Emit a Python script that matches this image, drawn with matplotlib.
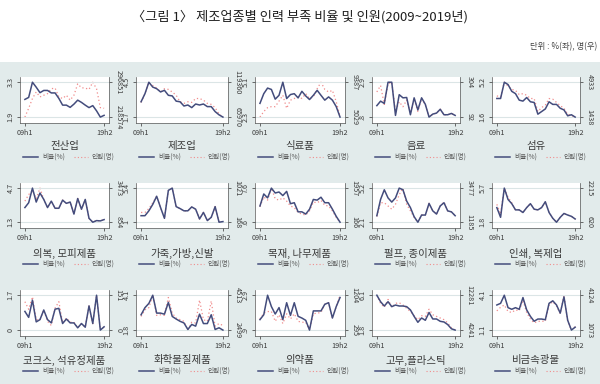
import matplotlib
matplotlib.use("Agg")
import matplotlib.pyplot as plt
from matplotlib.lines import Line2D

plt.rcParams['font.family'] = ['Noto Sans CJK KR', 'DejaVu Sans']

title = "〈그림 1〉 제조업종별 인력 부족 비율 및 인원(2009~2019년)"
unit_note = "단위 : %(좌), 명(우)"
periods = [f"{y:02d}h{h}" for y in range(9, 20) for h in (1, 2)]
legend_labels = ["비율(%)", "인원(명)"]

names = ["전산업", "제조업", "식료품", "음료", "섬유",
         "의복, 모피제품", "가죽,가방,신발", "목재, 나무제품", "펄프, 종이제품", "인쇄, 복제업",
         "코크스, 석유정제품", "화학물질제품", "의약품", "고무,플라스틱", "비금속광물"]

rate_total = [2.61, 2.69, 3.3, 3.10, 2.88, 2.97, 2.97, 2.87, 2.87, 2.65, 2.38, 2.38, 2.29, 2.42, 2.58, 2.49, 2.38, 2.28, 2.36, 2.15, 1.9, 1.97]
staff_total = [218574, 238323, 260271, 274903, 263929, 267587, 271245, 282219, 283682, 263929, 260271, 267587, 256613, 267587, 293193, 284414, 283682, 280755, 296851, 282219, 239785, 238323]
rate_mfg = [2.93, 3.58, 4.5, 4.11, 3.98, 3.72, 3.85, 3.45, 3.40, 2.98, 2.93, 2.59, 2.67, 2.46, 2.75, 2.67, 2.75, 2.54, 2.54, 2.14, 1.88, 1.7]
staff_mfg = [88422, 101895, 119360, 114370, 110378, 104390, 109380, 108382, 104390, 99400, 89420, 86925, 89420, 88422, 94410, 94410, 91915, 86925, 85428, 80438, 70458, 65970]
rate_food = [3.40, 4.18, 4.63, 4.52, 3.74, 4.05, 5.1, 3.79, 4.11, 4.18, 3.84, 4.37, 4.00, 3.71, 4.05, 4.45, 4.05, 3.66, 3.92, 3.66, 3.14, 2.3]
staff_food = [5029, 5721, 6210, 6332, 6332, 7025, 7758, 6129, 7147, 7351, 7554, 7351, 7961, 7351, 7554, 8572, 9387, 8491, 8165, 8369, 6943, 5110]
rate_bev = [1.49, 1.76, 1.62, 2.9, 2.9, 0.90, 2.15, 1.96, 1.98, 0.94, 1.96, 1.23, 1.96, 1.57, 0.8, 0.98, 1.04, 1.27, 0.94, 0.94, 1.02, 0.90]
staff_bev = [245, 284, 169, 294, 304, 126, 185, 155, 195, 116, 205, 126, 205, 165, 92, 110, 116, 140, 106, 106, 114, 102]
rate_tex = [3.52, 3.52, 5.2, 4.96, 4.26, 4.02, 3.35, 3.25, 3.62, 3.18, 3.11, 1.90, 2.17, 2.44, 3.18, 2.91, 2.91, 2.51, 2.34, 1.73, 1.84, 1.6]
staff_tex = [3561, 3463, 4933, 4541, 4214, 4116, 3692, 3790, 3627, 3300, 3300, 1994, 2385, 2647, 3300, 3234, 2908, 2581, 2320, 1732, 1601, 1438]
rate_cloth = [2.76, 3.24, 4.7, 3.31, 4.21, 3.57, 2.76, 3.40, 2.69, 2.69, 3.50, 3.18, 3.31, 2.11, 3.66, 2.60, 3.57, 1.69, 1.3, 1.46, 1.43, 1.56]
staff_cloth = [2475, 2974, 3298, 2650, 3473, 2600, 1977, 2475, 1927, 1927, 2550, 2301, 2401, 1478, 2675, 1852, 2600, 1154, 854, 979, 954, 1054]
rate_leather = [1.84, 1.84, 2.47, 3.30, 4.35, 2.89, 1.50, 5.11, 5.4, 3.01, 2.76, 2.47, 2.47, 2.97, 2.68, 1.42, 2.26, 1.21, 1.63, 3.01, 1.0, 1.08]
staff_leather = [412, 412, 509, 655, 818, 534, 265, 964, 1021, 558, 509, 452, 452, 550, 493, 249, 412, 209, 290, 558, 168, 184]
rate_wood = [3.93, 6.40, 5.60, 7.6, 6.60, 6.80, 6.07, 6.93, 4.40, 4.60, 2.73, 2.73, 2.27, 3.27, 5.27, 5.13, 5.73, 4.60, 4.60, 3.27, 1.80, 0.6]
staff_wood = [985, 1496, 1326, 1957, 1394, 1326, 1445, 1275, 1019, 933, 677, 592, 541, 763, 1223, 1189, 1309, 1053, 1019, 763, 422, 166]
rate_pulp = [2.69, 4.17, 5.05, 4.31, 3.93, 4.31, 5.2, 5.05, 4.02, 3.43, 2.60, 2.1, 2.75, 2.75, 3.81, 3.13, 2.84, 3.58, 3.87, 3.13, 3.04, 2.69]
staff_pulp = [1578, 2495, 2495, 2276, 2058, 2386, 3040, 3477, 2386, 1949, 1512, 1185, 1665, 1665, 2451, 1949, 1731, 2276, 2538, 1949, 1883, 1621]
rate_print = [3.47, 2.36, 5.7, 4.40, 3.92, 3.21, 3.21, 2.91, 3.47, 3.92, 3.29, 3.21, 3.47, 4.14, 2.91, 2.25, 1.8, 2.36, 2.80, 2.62, 2.47, 2.17]
staff_print = [1456, 1000, 2215, 1790, 1531, 1197, 1197, 1076, 1304, 1486, 1228, 1197, 1304, 1577, 1076, 802, 620, 848, 1030, 955, 894, 772]
rate_coke = [0.91, 0.62, 1.46, 0.40, 0.51, 0.98, 0.51, 0.35, 1.02, 1.06, 0.32, 0.54, 0.35, 0.35, 0.11, 0.32, 0.14, 1.18, 0.32, 1.7, 0.0, 0.16]
staff_coke = [123, 90, 144, 45, 45, 87, 38, 20, 95, 123, 31, 52, 34, 34, 10, 28, 13, 104, 28, 151, 0, 14]
rate_chem = [2.81, 3.28, 3.56, 4.1, 2.92, 2.92, 2.85, 3.63, 2.70, 2.53, 2.38, 2.27, 1.84, 2.17, 2.06, 2.85, 2.23, 2.23, 2.81, 1.84, 1.95, 1.8]
staff_chem = [3290, 3666, 3798, 4513, 3346, 3384, 3346, 4381, 3478, 3196, 3101, 3007, 2499, 2951, 2913, 4231, 3101, 3007, 4174, 2725, 2876, 2763]
rate_pharma = [1.50, 1.78, 2.9, 2.25, 1.82, 2.19, 1.50, 2.47, 1.74, 2.47, 1.69, 1.59, 1.46, 0.9, 2.00, 2.00, 2.00, 2.38, 2.47, 1.59, 2.25, 2.77]
staff_pharma = [584, 737, 779, 779, 524, 694, 465, 720, 584, 720, 524, 499, 499, 295, 720, 737, 754, 966, 1009, 609, 907, 1204]
rate_rubber = [6.1, 5.30, 4.77, 5.30, 4.69, 4.89, 4.77, 4.77, 4.69, 4.29, 3.49, 2.76, 3.29, 3.01, 3.97, 3.17, 3.17, 2.88, 2.80, 2.48, 1.96, 1.8]
staff_rubber = [12281, 10403, 9501, 11304, 9501, 10403, 10553, 10027, 9275, 8524, 7547, 6646, 7547, 7397, 9050, 7773, 7397, 7021, 6646, 5894, 4767, 4241]
rate_mineral = [3.26, 3.40, 4.1, 3.03, 2.89, 3.03, 2.89, 3.90, 2.84, 2.28, 1.86, 2.05, 2.05, 1.99, 3.40, 3.62, 3.26, 2.56, 3.96, 1.94, 1.1, 1.35]
staff_mineral = [2756, 3069, 3269, 2699, 2613, 2841, 2756, 3696, 2613, 2043, 1701, 1843, 1843, 1843, 3269, 3554, 3183, 2499, 4124, 1843, 1073, 1358]

rates = [rate_total, rate_mfg, rate_food, rate_bev, rate_tex,
         rate_cloth, rate_leather, rate_wood, rate_pulp, rate_print,
         rate_coke, rate_chem, rate_pharma, rate_rubber, rate_mineral]
staffs = [staff_total, staff_mfg, staff_food, staff_bev, staff_tex,
          staff_cloth, staff_leather, staff_wood, staff_pulp, staff_print,
          staff_coke, staff_chem, staff_pharma, staff_rubber, staff_mineral]

W, H = 600, 384
NAVY = "#434c7c"
PINK = "#f08c8c"
GRID = "#dbe5e6"
BG = "#e2ebeb"
TXT = "#3a3a3a"

fig = plt.figure(figsize=(6, 3.84), dpi=100)
fig.patch.set_facecolor("white")
fig.add_artist(plt.Rectangle((0, 0), 1, 1 - 62 / H, transform=fig.transFigure,
                             facecolor=BG, edgecolor="none", zorder=-10))
fig.text(0.5, 1 - 17 / H, title, ha="center", va="center", fontsize=9.5, color="#1e1e1e")
fig.text(597 / W, 1 - 47 / H, unit_note, ha="right", va="center", fontsize=6, color="#444444")

col_x = [(20, 109), (136, 228), (255, 345), (372, 460), (492, 580)]
row_y = [(77, 123), (183, 228), (290, 336)]
title_y = [146, 253, 360]
legend_y = [157, 264, 371]


def fmt_left(v):
    s = f"{v:g}"
    if s.startswith("0."):
        s = s[1:]
    return s


n = len(periods)
xs = list(range(n))
for i, name in enumerate(names):
    r, c = divmod(i, 5)
    x0, x1 = col_x[c]
    y0, y1 = row_y[r]
    ax = fig.add_axes([x0 / W, 1 - y1 / H, (x1 - x0) / W, (y1 - y0) / H])
    ax2 = ax.twinx()
    rv, sv = rates[i], staffs[i]
    lo, hi = min(rv), max(rv)
    sp = hi - lo
    ax.set_ylim(lo - 0.17 * sp, hi + 0.15 * sp)
    slo, shi = min(sv), max(sv)
    ssp = shi - slo
    ax2.set_ylim(slo - 0.17 * ssp, shi + 0.15 * ssp)
    ax.set_xlim(-1.3, n - 1 + 1.3)
    for yv in (lo, hi):
        ax.axhline(yv, color=GRID, lw=0.8, zorder=0)
    ax.plot(xs, rv, color=NAVY, lw=1.1, zorder=3)
    ax2.plot(xs, sv, color=PINK, lw=0.9, ls=(0, (1, 2)), zorder=2)
    ax.set_zorder(ax2.get_zorder() + 1)
    ax.patch.set_visible(False)
    ax2.patch.set_visible(True)
    ax2.patch.set_facecolor("white")
    ax.set_yticks([lo, hi])
    ax.set_yticklabels([fmt_left(lo), fmt_left(hi)], rotation=90, va="center")
    ax2.set_yticks([slo, shi])
    ax2.set_yticklabels([f"{slo:d}", f"{shi:d}"], rotation=-90, va="center")
    ax.set_xticks([0, n - 1])
    ax.set_xticklabels([periods[0], periods[-1]])
    for a in (ax, ax2):
        for s in a.spines.values():
            s.set_visible(False)
        a.tick_params(axis="both", labelsize=5.2, length=2.5, width=0.5, pad=1.5,
                      colors="#333333", labelcolor=TXT)
    ax.spines["left"].set_visible(True)
    ax.spines["bottom"].set_visible(True)
    ax2.spines["right"].set_visible(True)
    for s in (ax.spines["left"], ax.spines["bottom"], ax2.spines["right"]):
        s.set_color("#555555")
        s.set_linewidth(0.5)
    cx = (x0 + x1) / 2 / W
    fig.text(cx, 1 - title_y[r] / H, name, ha="center", va="center", fontsize=7.5, color=TXT)
    ly = 1 - legend_y[r] / H
    lx = x0 + 3
    fig.add_artist(Line2D([(lx) / W, (lx + 15) / W], [ly, ly], color=NAVY, lw=1.1,
                          transform=fig.transFigure))
    fig.text((lx + 19) / W, ly, legend_labels[0], ha="left", va="center", fontsize=4.8, color="#555555")
    fig.add_artist(Line2D([(lx + 51) / W, (lx + 65) / W], [ly, ly], color=PINK, lw=0.8,
                          ls=(0, (1, 2)), transform=fig.transFigure))
    fig.text((lx + 69) / W, ly, legend_labels[1], ha="left", va="center", fontsize=4.8, color="#555555")

fig.savefig("out.png", dpi=100, facecolor=fig.get_facecolor())
